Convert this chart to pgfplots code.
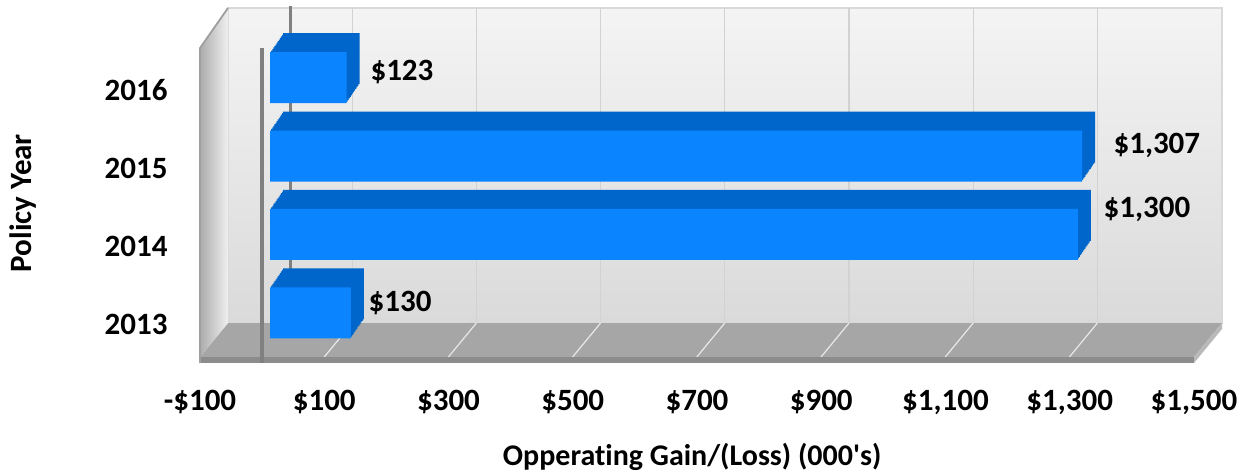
\documentclass[border=0pt]{standalone}
\usepackage{pgfplots}
\pgfplotsset{compat=1.18}
\usepackage{pgfplotstable}
\usepackage{fontspec}
\setmainfont{Carlito}[Ligatures=NoCommon]
\definecolor{barFront}{RGB}{10,132,255}
\definecolor{barTop}{RGB}{0,102,204}
\definecolor{wallTop}{RGB}{244,244,244}
\definecolor{wallBot}{RGB}{218,218,218}
\definecolor{floorC}{RGB}{166,166,166}
\definecolor{floorEdge}{RGB}{140,140,140}
\definecolor{zeroC}{RGB}{128,128,128}
\newcommand{\lf}{\fontsize{15.5}{18}\selectfont\bfseries}
\pgfplotstableread{
y val
0 130
1 1300
2 1307
3 123
}\bardata
\begin{document}
\begin{tikzpicture}
\useasboundingbox (0pt,0pt) rectangle (620pt,236pt);
\begin{scope}[x=0.5pt,y=0.5pt]
% back wall
\shade[top color=wallTop, bottom color=wallBot] (228,149) rectangle (1222,464);
\draw[gray!30, line width=0.6pt] (228,149) rectangle (1222,464);
\foreach \v in {100,300,...,1300}
  \draw[gray!35, line width=0.6pt] ({228+0.621*(\v+100)},149) -- ({228+0.621*(\v+100)},464);
% floor
\fill[floorC] (200,115) -- (1194,115) -- (1222,149) -- (228,149) -- cycle;
\foreach \v in {100,300,...,1300}
  \draw[gray!18, line width=0.6pt] ({200+0.621*(\v+100)},115) -- ({228+0.621*(\v+100)},149);
\fill[floorEdge] (200,109) rectangle (1194,115);
\fill[gray!55] (1194,109) -- (1222,143) -- (1222,149) -- (1194,115) -- cycle;
% left wall
\shade[left color=gray!65, right color=gray!12] (200,115) -- (200,424) -- (228,464) -- (228,149) -- cycle;
\draw[gray!75, line width=0.9pt] (200,109) -- (200,424) -- (228,464);
% zero lines
\draw[zeroC, line width=1.5pt] (290,149) -- (290,466);
\draw[zeroC, line width=1.6pt] (262,109) -- (262,424);
\end{scope}
\begin{axis}[
  at={(104pt,60pt)}, anchor=south west,
  scale only axis, width=497pt, height=156.75pt,
  xmin=-100, xmax=1500, ymin=-0.5, ymax=3.5,
  clip=false,
  axis line style={draw=none},
  major tick length=0pt,
  xtick={-100,100,...,1500},
  xticklabels={{-\$100},{\$100},{\$300},{\$500},{\$700},{\$900},{\$1,100},{\$1,300},{\$1,500}},
  ytick={0,1,2,3},
  yticklabels={2013,2014,2015,2016},
  xticklabel style={font=\lf, anchor=center, inner sep=0pt, yshift=-25pt, xshift=-4pt},
  yticklabel style={font=\lf, anchor=east, inner sep=0pt, xshift=-20pt, yshift=-6pt},
  xlabel={Opperating Gain/(Loss) (000\textquotesingle s)},
  ylabel={Policy Year},
  label style={font=\lf},
  xlabel style={font=\fontsize{15}{18}\selectfont\bfseries, at={(axis description cs:0.487,-0.335)}, anchor=center, inner sep=0pt},
  ylabel style={at={(axis description cs:-0.186,0.475)}, anchor=center, rotate=0, inner sep=0pt},
]
\pgfplotsinvokeforeach{12,11,...,1}{
  \addplot[xbar, bar shift=0pt, bar width=25.5pt, fill=barTop, draw=none,
    xshift={#1*0.5417pt}, yshift={#1*0.7917pt}] table[x=val, y=y] {\bardata};
}
\addplot[xbar, bar shift=0pt, bar width=25.5pt, fill=barFront, draw=none] table[x=val, y=y] {\bardata};
\addplot[only marks, mark=*, mark size=0pt, mark options={draw=none, fill=none},
  point meta=explicit symbolic, nodes near coords,
  every node near coord/.append style={anchor=west, inner sep=0pt, font=\lf, text=black}]
  coordinates {(161,3.07) [\$123] (1357,2.14) [\$1,307] (1341,1.32) [\$1,300] (158,0.13) [\$130]};
\end{axis}
\end{tikzpicture}
\end{document}
